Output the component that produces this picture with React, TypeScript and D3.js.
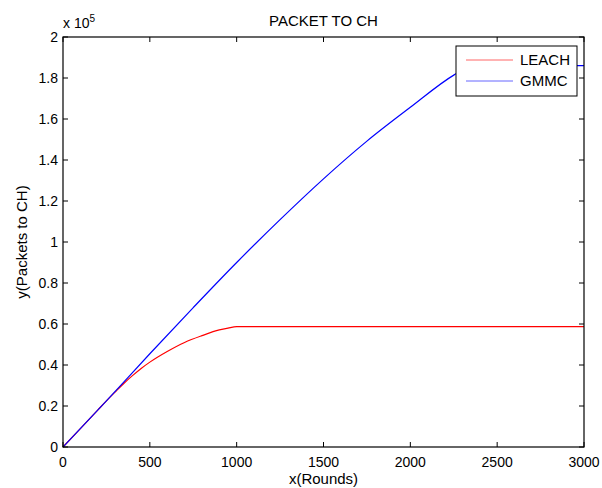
import React from "react";
import * as d3 from "d3";

// rounds and packets (x 1e5)
const leachRounds = [0, 100, 200, 250, 300, 350, 400, 450, 500, 600, 700, 800, 900, 950, 1000, 1500, 2000, 2500, 3000];
const leachPackets = [0, 0.09, 0.18, 0.225, 0.268, 0.31, 0.348, 0.383, 0.414, 0.466, 0.51, 0.543, 0.571, 0.58, 0.587, 0.587, 0.587, 0.587, 0.587];

const gmmcRounds = [0, 250, 500, 750, 1000, 1250, 1500, 1750, 2000, 2250, 2350, 2500, 3000];
const gmmcPackets = [0, 0.225, 0.455, 0.68, 0.9, 1.109, 1.308, 1.492, 1.657, 1.814, 1.86, 1.86, 1.86];

const xTicks = [0, 500, 1000, 1500, 2000, 2500, 3000];
const yTicks = [0, 0.2, 0.4, 0.6, 0.8, 1, 1.2, 1.4, 1.6, 1.8, 2];

const seriesNames = ["LEACH", "GMMC"];
const seriesColors = ["#ff0000", "#0000ff"];

const width = 602;
const height = 488;
const margin = { top: 37, right: 18, bottom: 41, left: 63 };
const font = "'Liberation Sans', Arial, sans-serif";

export default function App() {
  const x = d3.scaleLinear().domain([0, 3000]).range([margin.left, width - margin.right]);
  const y = d3.scaleLinear().domain([0, 2]).range([height - margin.bottom, margin.top]);

  const line = d3
    .line<[number, number]>()
    .x((d) => x(d[0]))
    .y((d) => y(d[1]))
    .curve(d3.curveMonotoneX);

  const leach = leachRounds.map((r, i) => [r, leachPackets[i]] as [number, number]);
  const gmmc = gmmcRounds.map((r, i) => [r, gmmcPackets[i]] as [number, number]);
  const series = [leach, gmmc];

  const x0 = x.range()[0];
  const x1 = x.range()[1];
  const y0 = y.range()[0];
  const y1 = y.range()[1];
  const tickLen = 5;

  // legend box
  const lg = { x: 456, y: 46, w: 121, h: 50 };

  return (
    <svg
      width={width}
      height={height}
      style={{ position: "absolute", left: 0, top: 0, background: "#fff" }}
      fontFamily={font}
    >
      <rect x={0} y={0} width={width} height={height} fill="#fff" />

      {/* plot lines */}
      {series.map((s, i) => (
        <path key={i} d={line(s) || ""} fill="none" stroke={seriesColors[i]} strokeWidth={1.2} />
      ))}

      {/* ticks on all four sides */}
      {xTicks.map((t) => (
        <g key={"xt" + t}>
          <line x1={x(t)} x2={x(t)} y1={y0} y2={y0 - tickLen} stroke="#000" />
          <line x1={x(t)} x2={x(t)} y1={y1} y2={y1 + tickLen} stroke="#000" />
          <text x={x(t)} y={467} fontSize={14} textAnchor="middle" fill="#000">
            {t}
          </text>
        </g>
      ))}
      {yTicks.map((t) => (
        <g key={"yt" + t}>
          <line x1={x0} x2={x0 + tickLen} y1={y(t)} y2={y(t)} stroke="#000" />
          <line x1={x1} x2={x1 - tickLen} y1={y(t)} y2={y(t)} stroke="#000" />
          <text x={58} y={y(t) + 5} fontSize={14} textAnchor="end" fill="#000">
            {d3.format("~g")(t)}
          </text>
        </g>
      ))}

      {/* axes box */}
      <rect x={x0} y={y1} width={x1 - x0} height={y0 - y1} fill="none" stroke="#000" strokeWidth={1.2} />

      {/* exponent */}
      <text x={63} y={28} fontSize={14} fill="#000">
        x 10
        <tspan dy={-6} fontSize={10}>5</tspan>
      </text>

      {/* title and labels */}
      <text x={(x0 + x1) / 2} y={26} fontSize={15} textAnchor="middle" fill="#000">
        PACKET TO CH
      </text>
      <text x={(x0 + x1) / 2} y={484} fontSize={15} textAnchor="middle" fill="#000">
        x(Rounds)
      </text>
      <text
        transform={`translate(27, ${(y0 + y1) / 2}) rotate(-90)`}
        fontSize={15}
        textAnchor="middle"
        fill="#000"
      >
        y(Packets to CH)
      </text>

      {/* legend */}
      <rect x={lg.x} y={lg.y} width={lg.w} height={lg.h} fill="#fff" stroke="#000" strokeWidth={1} />
      {seriesNames.map((n, i) => (
        <g key={n}>
          <line
            x1={lg.x + 10}
            x2={lg.x + 57}
            y1={lg.y + 14 + i * 21}
            y2={lg.y + 14 + i * 21}
            stroke={seriesColors[i]}
            strokeOpacity={0.6}
          />
          <text x={lg.x + 64} y={lg.y + 19 + i * 21} fontSize={15} fill="#000">
            {n}
          </text>
        </g>
      ))}
    </svg>
  );
}
